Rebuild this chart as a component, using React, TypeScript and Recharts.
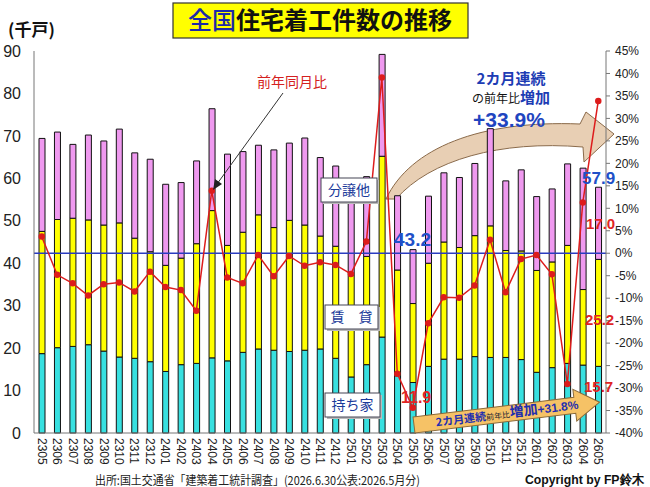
import React from "react";
import { ComposedChart, Bar, Line, XAxis, YAxis, ReferenceLine } from "recharts";

const months = [
  "2305", "2306", "2307", "2308", "2309", "2310", "2311", "2312",
  "2401", "2402", "2403", "2404", "2405", "2406", "2407", "2408", "2409", "2410", "2411", "2412",
  "2501", "2502", "2503", "2504", "2505", "2506", "2507", "2508", "2509", "2510", "2511", "2512",
  "2601", "2602", "2603", "2604", "2605",
];

// 千戸
const mochiie = [
  18.7, 20.1, 20.4, 20.8, 19.3, 17.9, 17.6, 16.8,
  14.5, 16.1, 16.4, 17.7, 17.0, 19.0, 19.8, 19.5, 19.2, 19.5, 19.8, 17.6,
  13.2, 16.1, 22.6, 13.5, 11.9, 15.7, 17.4, 17.4, 18.0, 17.8, 17.8, 17.3,
  14.3, 15.4, 16.4, 16.0, 15.7,
];
const chintai = [
  28.8, 30.2, 30.2, 29.4, 29.7, 31.6, 28.3, 25.9,
  25.0, 25.1, 28.2, 34.7, 27.2, 28.3, 31.6, 28.9, 30.9, 29.5, 26.6, 26.4,
  23.9, 25.5, 42.6, 24.9, 18.6, 24.3, 27.6, 26.3, 28.5, 31.0, 25.2, 25.6,
  24.0, 24.9, 27.8, 17.8, 25.2,
];
const bunjo = [
  21.9, 20.6, 17.4, 20.0, 19.8, 22.1, 20.1, 21.8,
  19.1, 17.8, 19.5, 24.0, 21.5, 19.0, 16.4, 18.3, 18.2, 20.5, 18.5, 18.9,
  21.2, 18.8, 24.0, 17.5, 12.7, 15.8, 16.3, 16.5, 17.0, 22.9, 16.4, 19.1,
  17.4, 17.2, 19.2, 28.6, 17.0,
];
// 前年同月比 (%)
const yoy = [
  3.7, -4.8, -6.7, -9.4, -6.9, -6.5, -8.5, -4.1,
  -7.5, -8.2, -12.8, 13.9, -5.4, -6.7, -0.4, -5.1, -0.6, -2.8, -2.0, -2.6,
  -4.6, 2.6, 39.1, -26.8, -34.4, -15.6, -9.8, -9.9, -7.2, 3.0, -8.7, -1.3,
  -0.4, -4.7, -29.1, 11.3, 33.9,
];

const leftTicks = [0, 10, 20, 30, 40, 50, 60, 70, 80, 90];
const rightTicks = [-40, -35, -30, -25, -20, -15, -10, -5, 0, 5, 10, 15, 20, 25, 30, 35, 40, 45];

const data = months.map((m, i) => ({
  month: m,
  mochiie: mochiie[i],
  chintai: chintai[i],
  bunjo: bunjo[i],
  yoy: yoy[i],
}));

const NUM = "'Liberation Sans', Arial, sans-serif";
const JP = "'Noto Sans CJK JP', 'Noto Sans', sans-serif";
const BLUE = "#1d3cb4";
const RED = "#e02424";

function MonthTick({ x, y, payload }: any) {
  return (
    <text
      x={x}
      y={y}
      transform={`rotate(90, ${x}, ${y})`}
      textAnchor="start"
      dominantBaseline="central"
      fontSize={12}
      fontFamily={NUM}
      fill="#222"
    >
      {payload.value}
    </text>
  );
}

function LabelBox({ x, y, w, text }: { x: number; y: number; w: number; text: string }) {
  return (
    <g>
      <rect x={x + 2} y={y + 2} width={w} height={24} fill="#bbb" />
      <rect x={x} y={y} width={w} height={24} fill="#fff" stroke="#445" strokeWidth={1} />
      <text x={x + w / 2} y={y + 17} textAnchor="middle" fontSize={14} fontFamily={JP} fill="#1a3a9a">
        {text}
      </text>
    </g>
  );
}

export default function App() {
  return (
    <div style={{ position: "absolute", left: 0, top: 0, width: 650, height: 487, background: "#fff" }}>
      {/* big curved arrow, behind the bars */}
      <svg width={650} height={487} style={{ position: "absolute", left: 0, top: 0 }}>
        <path
          d="M 386,199 C 410,148 480,120 580,124 L 586,112 L 614,134 L 584,162 L 583,147 C 500,140 430,160 396,199 Z"
          fill="#e8cfb4"
          stroke="#8a6a4a"
          strokeWidth={1}
        />
      </svg>

      <div style={{ position: "absolute", left: 0, top: 0 }}>
        <ComposedChart width={650} height={487} data={data} margin={{ top: 51, right: 0, bottom: 14, left: 0 }}>
          <XAxis
            dataKey="month"
            interval={0}
            height={40}
            tickLine={false}
            tickSize={4}
            tickMargin={1}
            axisLine={{ stroke: "#777" }}
            tick={<MonthTick />}
          />
          <YAxis
            yAxisId="left"
            width={34}
            domain={[0, 90]}
            ticks={leftTicks}
            tickLine={false}
            tickSize={4}
            tickMargin={9}
            axisLine={{ stroke: "#777" }}
            tick={{ fontSize: 16, fill: "#222", fontFamily: NUM }}
          />
          <YAxis
            yAxisId="right"
            orientation="right"
            width={44}
            domain={[-40, 45]}
            ticks={rightTicks}
            tickSize={4}
            tickMargin={5}
            tickLine={{ stroke: "#777" }}
            axisLine={{ stroke: "#777" }}
            tickFormatter={(v: number) => `${v}%`}
            tick={{ fontSize: 12, fill: "#222", fontFamily: NUM, textAnchor: "start" }}
          />
          <Bar yAxisId="left" dataKey="mochiie" stackId="s" fill="#38e0e0" stroke="#111" strokeWidth={1} barSize={6} isAnimationActive={false} />
          <Bar yAxisId="left" dataKey="chintai" stackId="s" fill="#ffff00" stroke="#111" strokeWidth={1} barSize={6} isAnimationActive={false} />
          <Bar yAxisId="left" dataKey="bunjo" stackId="s" fill="#ef99ef" stroke="#111" strokeWidth={1} barSize={6} isAnimationActive={false} />
          <ReferenceLine yAxisId="right" y={0} stroke="#2a3cc0" strokeWidth={1.5} />
          <Line
            yAxisId="right"
            dataKey="yoy"
            stroke="#dd1c1c"
            strokeWidth={1.5}
            dot={{ r: 2.5, fill: "#dd1c1c", stroke: "#dd1c1c" }}
            isAnimationActive={false}
          />
        </ComposedChart>
      </div>

      {/* annotations on top */}
      <svg width={650} height={487} style={{ position: "absolute", left: 0, top: 0, pointerEvents: "none" }}>
        <rect x={173} y={3} width={295} height={35} fill="#ffff00" stroke="#333" strokeWidth={1.2} />
        <text x={320} y={29} textAnchor="middle" fontSize={24} fontFamily={JP} fontWeight={700}>
          <tspan fill="#1c2aa8" fontWeight={500}>全国</tspan>
          <tspan fill="#111">住宅着工件数の推移</tspan>
        </text>
        <text x={8} y={36} fontSize={17} fontWeight={700} fontFamily={JP} fill="#111">(千戸)</text>

        <text x={292} y={87} textAnchor="middle" fontSize={14} fontFamily={JP} fill="#d42020">前年同月比</text>
        <line x1={283} y1={93} x2={217} y2={184} stroke="#333" strokeWidth={1} />
        <polygon points="213,190 215,179 222,184" fill="#222" />

        <text x={511} y={84} textAnchor="middle" fontSize={15} fontWeight={700} fontFamily={JP} fill={BLUE}>2カ月連続</text>
        <text x={511} y={103} textAnchor="middle" fontFamily={JP}>
          <tspan fontSize={12} fill="#111">の前年比</tspan>
          <tspan fontSize={15} fontWeight={700} fill={BLUE}>増加</tspan>
        </text>
        <text x={509} y={127} textAnchor="middle" fontSize={21} fontWeight={700} fontFamily={NUM} fill="#1f45c0">+33.9%</text>

        <LabelBox x={321} y={178} w={56} text="分譲他" />
        <LabelBox x={325} y={305} w={53} text="賃　貸" />
        <LabelBox x={325} y={393} w={55} text="持ち家" />

        <text x={394} y={246} fontSize={19} fontWeight={700} fontFamily={NUM} fill="#2050c8">43.2</text>
        <text x={582} y={184} fontSize={17} fontWeight={700} fontFamily={NUM} fill="#2050c8">57.9</text>
        <text x={586} y={229} fontSize={15} fontWeight={700} fontFamily={NUM} fill={RED}>17.0</text>
        <text x={585} y={325} fontSize={15} fontWeight={700} fontFamily={NUM} fill={RED}>25.2</text>
        <text x={584} y={392} fontSize={15} fontWeight={700} fontFamily={NUM} fill={RED}>15.7</text>
        <text x={401} y={403} fontSize={16} fontWeight={700} fontFamily={NUM} fill={RED}>11.9</text>

        <g transform="translate(414,425) rotate(-7)">
          <polygon
            points="0,-8 162,-8 162,-16 187,0 162,16 162,8 0,8"
            fill="#f6c266"
            stroke="#8a6a3a"
            strokeWidth={1}
          />
          <text x={22} y={4} fontFamily={JP} fill="#1f2fb0">
            <tspan fontSize={11} fontWeight={700}>2カ月連続</tspan>
            <tspan fontSize={8} fill="#223">前年比</tspan>
            <tspan fontSize={14} fontWeight={700}>増加</tspan>
            <tspan fontSize={12} fontWeight={700} fontFamily={NUM}>+31.8%</tspan>
          </text>
        </g>

        <text x={95} y={485} fontSize={12} fontFamily={JP} fill="#222" textLength={325} lengthAdjust="spacingAndGlyphs">
          出所:国土交通省「建築着工統計調査」(2026.6.30公表:2026.5月分)
        </text>
        <text x={525} y={484} fontSize={13} fontWeight={700} fontFamily={NUM} fill="#111" textLength={119} lengthAdjust="spacingAndGlyphs">
          Copyright by FP鈴木
        </text>
      </svg>
    </div>
  );
}
